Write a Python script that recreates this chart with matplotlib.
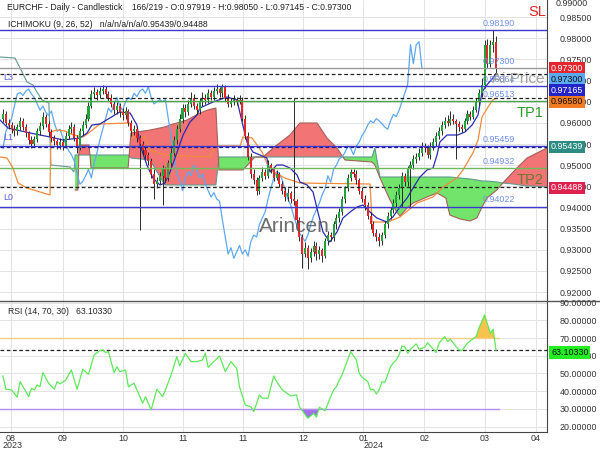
import matplotlib
matplotlib.use("Agg")
import matplotlib.pyplot as plt
from matplotlib.lines import Line2D
from matplotlib.ticker import FormatStrFormatter
import numpy as np

plt.rcParams["font.family"] = ["Liberation Sans", "DejaVu Sans"]

# ── data ─────────────────────────────────────────────────────────────────────
first_open = 0.9610
closes = [
    .9620, .9600, .9595, .9585, .9580, .9590, .9605, .9590, .9575, .9560,
    .9550, .9562, .9580, .9592, .9615, .9598, .9578, .9565, .9558, .9548,
    .9556, .9545, .9570, .9585, .9590, .9565, .9540, .9580, .9595, .9610,
    .9640, .9668, .9672, .9665, .9675, .9680, .9668, .9660, .9645, .9630,
    .9640, .9625, .9618, .9628, .9600, .9580, .9585, .9565, .9550, .9535,
    .9525, .9510, .9480, .9455, .9462, .9475, .9490, .9470, .9505, .9530,
    .9560, .9585, .9610, .9635, .9625, .9645, .9660, .9640, .9630, .9650,
    .9660, .9655, .9670, .9662, .9675, .9680, .9670, .9685, .9660, .9645,
    .9650, .9655, .9650, .9655, .9610, .9570, .9520, .9480, .9465, .9440,
    .9470, .9485, .9475, .9500, .9490, .9470, .9480, .9455, .9440, .9425,
    .9435, .9420, .9415, .9370, .9330, .9290, .9305, .9280, .9295, .9310,
    .9290, .9300, .9285, .9320, .9335, .9330, .9360, .9375, .9390, .9420,
    .9445, .9470, .9485, .9480, .9465, .9440, .9420, .9405, .9380, .9360,
    .9340, .9330, .9320, .9335, .9360, .9380, .9395, .9410, .9430, .9445,
    .9475, .9460, .9490, .9500, .9515, .9520, .9530, .9545, .9540, .9525,
    .9545, .9555, .9570, .9580, .9595, .9605, .9600, .9610, .9605, .9598,
    .9590, .9585, .9605, .9620, .9615, .9630, .9650, .9670, .9690, .9785,
    .9740, .9785, .97919, .97300,
]
highs = [
    .9632, .9628, .9610, .9603, .9595, .9598, .9615, .9612, .9598, .9582,
    .9568, .9570, .9588, .9602, .9625, .9620, .9605, .9585, .9572, .9563,
    .9565, .9562, .9578, .9595, .9602, .9598, .9572, .9588, .9605, .9620,
    .9650, .9678, .9685, .9680, .9684, .9690, .9688, .9675, .9668, .9652,
    .9650, .9646, .9635, .9638, .9632, .9608, .9595, .9592, .9572, .9558,
    .9545, .9532, .9518, .9490, .9472, .9485, .9500, .9495, .9512, .9540,
    .9570, .9595, .9620, .9645, .9645, .9655, .9672, .9668, .9648, .9660,
    .9672, .9668, .9680, .9678, .9685, .9692, .9686, .9693, .9690, .9668,
    .9660, .9665, .9662, .9665, .9662, .9618, .9578, .9530, .9490, .9472,
    .9478, .9495, .9492, .9512, .9505, .9495, .9488, .9485, .9462, .9448,
    .9445, .9440, .9660, .9420, .9378, .9338, .9318, .9312, .9305, .9320,
    .9318, .9308, .9305, .9328, .9345, .9342, .9368, .9385, .9400, .9428,
    .9452, .9480, .9492, .9490, .9488, .9470, .9448, .9430, .9412, .9390,
    .9368, .9350, .9340, .9342, .9368, .9390, .9402, .9420, .9438, .9455,
    .9485, .9482, .9498, .9510, .9525, .9530, .9540, .9555, .9552, .9548,
    .9555, .9565, .9578, .9590, .9605, .9615, .9618, .9628, .9620, .9610,
    .9605, .9598, .9612, .9630, .9628, .9640, .9660, .9680, .9705, .9795,
    .9798, .9795, .98190, .98050,
]
lows = [
    .9602, .9594, .9585, .9576, .9570, .9572, .9584, .9583, .9566, .9550,
    .9540, .9543, .9555, .9572, .9585, .9590, .9570, .9556, .9548, .9538,
    .9538, .9536, .9540, .9562, .9576, .9558, .9528, .9535, .9572, .9588,
    .9605, .9635, .9658, .9655, .9658, .9668, .9660, .9652, .9638, .9622,
    .9620, .9615, .9608, .9610, .9592, .9570, .9572, .9556, .9347, .9525,
    .9515, .9500, .9470, .9420, .9445, .9455, .9406, .9460, .9462, .9498,
    .9522, .9550, .9578, .9600, .9615, .9618, .9638, .9632, .9620, .9622,
    .9640, .9645, .9648, .9655, .9655, .9668, .9662, .9662, .9652, .9638,
    .9638, .9642, .9642, .9645, .9605, .9562, .9512, .9470, .9455, .9430,
    .9432, .9462, .9468, .9470, .9482, .9462, .9465, .9448, .9432, .9415,
    .9415, .9410, .9405, .9362, .9320, .9258, .9282, .9255, .9272, .9285,
    .9275, .9278, .9270, .9280, .9312, .9320, .9322, .9350, .9365, .9382,
    .9410, .9438, .9462, .9472, .9455, .9432, .9412, .9395, .9372, .9350,
    .9332, .9320, .9310, .9312, .9328, .9352, .9372, .9388, .9402, .9420,
    .9402, .9450, .9452, .9400, .9492, .9505, .9512, .9522, .9532, .9518,
    .9515, .9535, .9545, .9562, .9572, .9588, .9592, .9595, .9598, .9515,
    .9582, .9578, .9580, .9598, .9608, .9610, .9625, .9642, .9662, .9682,
    .9730, .9732, .9768, .97145,
]
opens = [first_open] + closes[:-1]
chikou_shift = 26

# Ichimoku lines (bar, price)
tenkan_x = [-1.05, 1.75, 9.5, 16.5, 21.0, 27.0, 29.5, 31.2, 34.0, 37.5, 41.0, 44.6, 47.0, 48.1,
            50.5, 52.6, 55.1, 56.8, 58.6, 61.1, 63.2, 65.6, 68.1, 69.1, 73.7, 78.6, 82.1, 83.9,
            85.6, 87.7, 90.2, 92.6, 93.7, 96.1, 98.2, 100.7, 103.2, 104.2, 106.7, 108.8, 110.5,
            112.3, 114.7, 117.2, 119.3, 121.8, 124.2, 126.3, 128.8, 131.2, 134.7, 136.8, 139.3,
            141.8, 143.9, 146.3, 148.8, 150.9, 152.3, 153.3, 155.8, 159.6, 162.1, 164.6, 166.7,
            168.1, 169.8, 171.9, 173.0]
tenkan_y = [.96069, .95879, .95761, .95667, .95596, .95643, .95761, .95950, .95974, .96116,
            .96258, .96234, .95950, .95477, .95005, .94697, .94532, .94579, .94839, .95312,
            .95714, .96021, .96187, .96352, .96494, .96612, .96541, .96021, .95548, .95312,
            .95241, .95170, .94839, .95005, .95005, .94934, .94768, .94603, .94532, .94366,
            .93893, .93421, .93184, .93421, .93752, .93893, .94012, .94059, .93893, .93752,
            .93657, .93775, .94012, .94224, .94461, .94721, .94887, .94934, .95241, .95548,
            .95714, .95714, .95785, .95950, .96187, .96730, .96896, .97061, .97165]
kijun_x = [-1.05, 1.4, 3.5, 5.3, 8.4, 16.5, 16.8, 18.9, 21.75, 24.6, 28.1, 30.5, 34.0, 44.6,
           45.3, 49.8, 51.6, 56.8, 72.6, 74.4, 83.2, 84.2, 87.4, 90.9, 93.7, 98.9, 104.2,
           128.8, 129.5, 135.1, 139.3, 145.3, 150.9, 154.4, 159.3, 161.4, 164.9, 166.7,
           168.1, 170.2, 171.9, 173.0]
kijun_y = [.95194, .95170, .94934, .94579, .94461, .94296, .95785, .95832, .95808, .95714,
           .95667, .95785, .95974, .95998, .95667, .95667, .95359, .95241, .95194, .95454,
           .95454, .95667, .95643, .95312, .94887, .94697, .94579, .94555, .93657, .93657,
           .93775, .94106, .94248, .94485, .94697, .94887, .95288, .95596, .96140, .96376,
           .96541, .96580]
lead_a_x = [-1.05, 4.2, 6.7, 8.4, 10.5, 11.9, 13.7, 16.1, 16.8, 23.5, 24.9]
lead_a_y = [.97558, .97534, .97203, .96967, .96896, .96730, .96541, .96470, .95005, .94957, .94839]
cloud_x = [25.3, 26.3, 26.7, 30.2, 30.9, 43.9, 44.9, 51.6, 56.8, 58.6, 64.6, 69.1, 71.9, 74.7,
           75.8, 84.2, 88.4, 91.2, 96.1, 100.7, 104.2, 110.2, 113.7, 117.2, 120.0, 129.5,
           130.5, 132.3, 135.8, 138.2, 139.3, 141.8, 143.9, 148.8, 152.3, 155.4, 156.8, 160.4,
           163.9, 166.3, 168.1, 169.8, 173.3, 175.4, 179.0, 181.4, 183.9, 186.0, 190.9]
span_a = [.95241, .95241, .95241, .95241, .95241, .95241, .95170, .95123, .94532, .94532,
          .94532, .94532, .94532, .94532, .95194, .95194, .95194, .95194, .95194, .95194,
          .95194, .95194, .95194, .95194, .95194, .95194, .95407, .94721, .94721, .94721,
          .94721, .94721, .94721, .94721, .94721, .94721, .94721, .94697, .94674, .94650,
          .94626, .94626, .94603, .94579, .94555, .94532, .94508, .94508, .94485]
span_b = [.94414, .94414, .95477, .95477, .94934, .94934, .95761, .95832, .95903, .95950,
          .96069, .96234, .96305, .96352, .94887, .94887, .95194, .95194, .95477, .95714,
          .95998, .95998, .95643, .95407, .95123, .95075, .95005, .94697, .94177, .93893,
          .93799, .93988, .94106, .94248, .94343, .94224, .93822, .93728, .93681, .93752,
          .94012, .94224, .94414, .94579, .94839, .95005, .95170, .95241, .95407]

rsi_x = [0, 1, 3, 5, 6, 9, 10, 11, 12, 13, 14, 16, 18, 19, 20, 22, 24, 26, 28, 30,
         32, 34, 35, 36, 37, 39, 40, 41, 43, 44, 46, 47, 49, 50, 52, 54, 56, 57, 59, 61,
         62, 64, 66, 68, 70, 71, 72, 74, 76, 78, 80, 82, 83, 85, 87, 88, 90, 91, 93, 95,
         96, 98, 101, 103, 104, 105, 107, 108, 109, 110, 111, 113, 115, 116, 117, 118, 119,
         121, 122, 124, 125, 126, 128, 129, 130, 131, 132, 133, 134, 136, 137, 138, 139,
         140, 141, 142, 143, 145, 146, 148, 149, 150, 152, 153, 155, 156, 157, 159, 160,
         161, 163, 164, 166, 167, 169, 171, 172, 173]
rsi_vals = [48.6, 41.1, 40.7, 36.6, 45.4, 36.9, 41.6, 40.7, 43.5, 42.5, 50.5, 44.5, 41.1,
            45.4, 44.1, 46.3, 52.0, 41.1, 52.4, 49.5, 60.5, 62.9, 63.3, 61.8, 62.3, 50.5,
            53.8, 51.0, 52.0, 42.5, 44.5, 40.7, 33.2, 36.9, 29.4, 41.1, 36.9, 40.7, 49.2,
            59.5, 54.3, 61.4, 56.7, 56.7, 57.6, 61.4, 53.5, 56.7, 59.9, 51.0, 56.7, 52.9,
            42.5, 32.2, 31.2, 28.4, 37.9, 36.0, 36.0, 48.6, 45.4, 40.7, 37.3, 37.9, 31.2,
            29.0, 24.7, 26.0, 27.5, 25.3, 30.9, 29.0, 36.9, 40.7, 42.5, 46.3, 49.2, 58.0,
            62.3, 57.6, 50.1, 47.9, 45.4, 40.7, 41.1, 38.4, 40.7, 45.4, 45.0, 53.8, 56.1,
            57.6, 60.5, 65.5, 65.1, 61.4, 63.7, 66.7, 63.7, 64.8, 67.4, 65.5, 61.8, 67.1,
            70.8, 68.0, 69.3, 65.1, 63.3, 62.9, 67.1, 68.5, 70.8, 75.5, 83.1, 72.7, 75.0, 63.1]
rsi_last = 63.10330

month_pos = [2.8, 20.9, 42.2, 63.3, 84.3, 105.3, 126.4, 147.8, 169.1, 187.0]
month_labels = ["08", "09", "10", "11", "11", "12", "01", "02", "03", "04"]

# level lines: (price, colour, style, label text or None)
levels = [
    (0.98190, "#3b3bd0", "-", "0.98190"),
    (0.97300, "#9a9a9a", "-", "0.97300"),
    (0.97165, "#222222", "--", None),
    (0.96864, "#3b3bd0", "-", "0.96864"),
    (0.96580, "#222222", "--", None),
    (0.96513, "#4aa54a", "-", "0.96513"),
    (0.95459, "#3b3bd0", "-", "0.95459"),
    (0.95439, "#1c1c90", "--", None),
    (0.94932, "#6fba5a", "-", "0.94932"),
    (0.94488, "#222222", "--", None),
    (0.94022, "#3b3bd0", "-", "0.94022"),
]
side_tags = [  # (y px, text, bg, fg)
    (68.3, "0.97300", "#e3262e", "white"),
    (79.3, "0.97300", "#5aaaf2", "#111111"),
    (90.3, "0.97165", "#2323c8", "white"),
    (101.7, "0.96580", "#f07a22", "#111111"),
    (146.7, "0.95439", "#2b8c84", "white"),
    (187.7, "0.94488", "#e0204e", "white"),
]

W, H = 600, 450
def fx(px): return px / W
def fy(py): return 1 - py / H

fig = plt.figure(figsize=(6, 4.5), dpi=100)
fig.patch.set_facecolor("white")

ax = fig.add_axes([0, fy(300.7), fx(547), 300.7 / H])
ax2 = fig.add_axes([0, fy(431.7), fx(547), (431.7 - 300.7) / H], sharex=ax)

XMIN, XMAX = -1.05, 190.9
ax.set_xlim(XMIN, XMAX)
ax.set_ylim(0.91797, 0.98905)

# grid
for a in (ax, ax2):
    a.set_xticks(month_pos)
    a.grid(True, color="#e3e3e3", lw=0.7, zorder=0)
    a.set_axisbelow(True)
    for s in ("top", "left", "bottom"):
        a.spines[s].set_visible(False)
    a.spines["right"].set_color("#444444")
    a.yaxis.tick_right()
    a.tick_params(axis="y", length=0, pad=9, labelsize=6.4, labelcolor="#333333")
ax.tick_params(axis="x", length=0, labelbottom=False)
ax.set_yticks([round(0.92 + 0.005 * i, 3) for i in range(14)])
ax.yaxis.set_major_formatter(FormatStrFormatter("%.5f"))

# cloud
cx = np.array(cloud_x); sa = np.array(span_a); sb = np.array(span_b)
ax.fill_between(cx, sa, sb, where=sa >= sb, interpolate=True, color="#72e46c", lw=0, zorder=1)
ax.fill_between(cx, sa, sb, where=sa < sb, interpolate=True, color="#f27474", lw=0, zorder=1)
ax.plot(lead_a_x + cloud_x, lead_a_y + span_a, color="#5f9a8e", lw=0.8, zorder=2)
ax.plot(cloud_x, span_b, color="#a4605a", lw=0.8, zorder=2)

# chikou, tenkan, kijun
n = len(closes)
ax.plot(np.arange(n - chikou_shift), closes[chikou_shift:], color="#5ea8f0", lw=0.9, zorder=3)
ax.plot(kijun_x, kijun_y, color="#f28a3a", lw=0.9, zorder=3)
ax.plot(tenkan_x, tenkan_y, color="#2b2bb0", lw=0.9, zorder=3)

# level lines
for price, col, ls, lbl in levels:
    ax.axhline(price, color=col, ls=ls, lw=1.0 if ls == "-" else 0.9,
               dashes=(3, 2) if ls == "--" else (None, None), zorder=5)
    if lbl:
        ax.annotate(lbl, (168.4, price), xytext=(0, 1.5), textcoords="offset points",
                    fontsize=6.4, color="#6f8fe6", va="bottom", ha="left", zorder=6)

# candles
xs = np.arange(n)
o = np.array(opens); c = np.array(closes)
up = c >= o
ax.vlines(xs, lows, highs, color="#2a2a2a", lw=0.7, zorder=4)
ax.bar(xs, np.maximum(np.abs(c - o), 0.00008), bottom=np.minimum(o, c), width=0.72,
       color=np.where(up, "#20a33a", "#e5262a"), lw=0, zorder=4.5)

# in-chart texts
for yp, lbl in ((78, "L3"), (137, "L1"), (198, "L0")):
    fig.text(fx(3), fy(yp), lbl, fontsize=6.4, color="#5a5ad6", va="center")
fig.text(fx(528), fy(12), "SL", fontsize=10.5, color="#e02828", va="center")
fig.text(fx(517), fy(113), "TP1", fontsize=10.5, color="#2e9a2e", va="center")
fig.text(fx(517), fy(180), "TP2", fontsize=10.5, color="#4f7a1e", alpha=0.8, va="center", zorder=10)
fig.text(fx(492), fy(79), "Ai Price", fontsize=11, color="#9a9a9a", alpha=0.9, va="center")
fig.text(fx(259), fy(226), "Arincen", fontsize=15, color="#555555", alpha=0.85, va="center")
fig.text(fx(7), fy(8), "EURCHF - Daily - Candlestick    166/219 - O:0.97919 - H:0.98050 - L:0.97145 - C:0.97300",
         fontsize=6.2, color="#222222", va="center")
fig.text(fx(8), fy(24.5), "ICHIMOKU (9, 26, 52)   n/a/n/a/n/a/0.95439/0.94488",
         fontsize=6.2, color="#222222", va="center")
fig.text(fx(556), fy(3), "0.99000", fontsize=6.4, color="#333333", va="center")

for yp, txt, bg, fg in side_tags:
    fig.text(fx(551), fy(yp), txt, fontsize=6.4, color=fg, va="center", ha="left",
             bbox=dict(boxstyle="square,pad=0.18", fc=bg, ec="none"))

# RSI panel
ax2.set_ylim(17.1, 91.1)
ax2.set_yticks(range(20, 91, 10))
ax2.yaxis.set_major_formatter(FormatStrFormatter("%.5f"))
ax2.spines["bottom"].set_visible(True)
ax2.spines["bottom"].set_color("#444444")
ax2.set_xticklabels(month_labels)
ax2.tick_params(axis="x", length=0, pad=2, labelsize=6.4, labelcolor="#333333")
rx = np.array(rsi_x, dtype=float); rv = np.array(rsi_vals)
ax2.fill_between(rx, rv, 70, where=rv > 70, interpolate=True, color="#f8c24e", lw=0, zorder=2)
ax2.fill_between(rx, rv, 30, where=rv < 30, interpolate=True, color="#a071ea", lw=0, zorder=2)
ax2.plot([XMIN, 174], [70, 70], color="#f6cf86", lw=1.0, zorder=2)
ax2.plot([XMIN, 174], [30, 30], color="#b48cf0", lw=1.0, zorder=2)
ax2.axhline(rsi_last, color="#222222", ls="--", dashes=(3, 2), lw=0.9, zorder=3)
ax2.plot(rx, rv, color="#5ee85a", lw=0.9, zorder=4)
fig.text(fx(8), fy(312), "RSI (14, 70, 30)   63.10330", fontsize=6.2, color="#222222", va="center")
fig.text(fx(551), fy(352.5), "63.10330", fontsize=6.4, color="#111111", va="center", ha="left",
         bbox=dict(boxstyle="square,pad=0.18", fc="#22ee22", ec="none"))
fig.text(fx(3), fy(445), "2023", fontsize=6.4, color="#333333", va="center")
fig.text(fx(364), fy(445), "2024", fontsize=6.4, color="#333333", va="center")

fig.add_artist(Line2D([0, 1], [fy(300.7)] * 2, color="#555555", lw=1.0, transform=fig.transFigure))

fig.savefig("out.png", dpi=100)
